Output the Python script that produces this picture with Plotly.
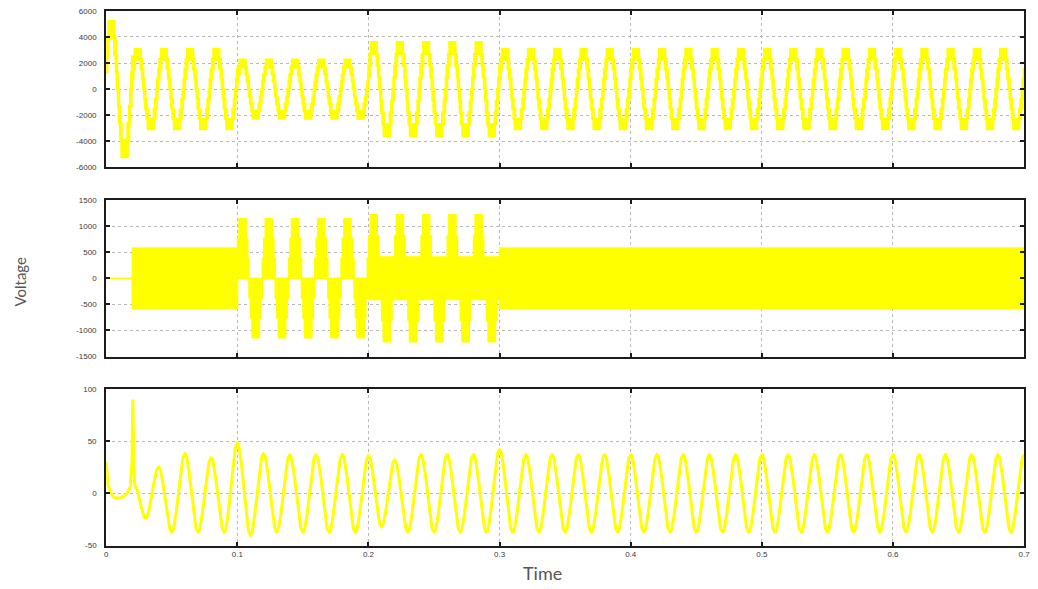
import numpy as np
import plotly.graph_objects as go

# ---------------------------------------------------------------------------
# Signal description
# ---------------------------------------------------------------------------
F0 = 50.0          # fundamental frequency, Hz
CREST_T = 0.004    # time of the first positive crest of the upper two traces, s
T_END = 0.7        # simulated time, s
FC = 6000.0        # converter switching frequency, Hz

# operating segments (s)
seg_t = [0.0, 0.02, 0.1, 0.2, 0.3, 0.7]

# upper trace: crest voltage per segment (V), staircase with 4 steps per half wave
top_amp = [5200, 3050, 2250, 3600, 3050]
top_steps = [4, 4, 4, 4, 4]

# middle trace: converter output per segment
mid_mode = ["off", "block", "multi", "wide", "block"]
mid_amp = [0, 580, 1140, 1215, 580]
mid_steps = [1, 1, 3, 3, 1]

# lower trace: start-up portion (s, V)
bot_start_t = [0.0, 0.001, 0.003, 0.006, 0.009, 0.012, 0.015, 0.018, 0.0195, 0.0203, 0.0211, 0.0220]
bot_start_v = [30, 9, 1, -4, -5, -4, -1, 4, 20, 90, 18, 6]
# lower trace: crest values every half period from 0.03 s to 0.70 s (V)
bot_crest_v = [
    -24, 25, -37, 38, -37, 34, -37, 48, -40, 38,
    -37, 37, -37, 37, -37, 37, -37, 36, -32, 32,
    -37, 37, -37, 37, -37, 37, -37, 42, -37, 37,
    -37, 37, -37, 37, -37, 37, -37, 37, -37, 37,
    -37, 37, -37, 37, -37, 37, -37, 37, -37, 37,
    -37, 37, -37, 37, -37, 37, -37, 37, -37, 37,
    -37, 37, -37, 37, -37, 37, -37, 37,
]
bot_crest_t = np.round(0.03 + 0.01 * np.arange(len(bot_crest_v)), 4)

# axis ticks
x_ticks = [0, 0.1, 0.2, 0.3, 0.4, 0.5, 0.6, 0.7]
x_ticktext = ["0", "0.1", "0.2", "0.3", "0.4", "0.5", "0.6", "0.7"]
top_ticks = [-6000, -4000, -2000, 0, 2000, 4000, 6000]
mid_ticks = [-1500, -1000, -500, 0, 500, 1000, 1500]
bot_ticks = [-50, 0, 50, 100]

YELLOW = "#ffff00"

# ---------------------------------------------------------------------------
# Waveform construction
# ---------------------------------------------------------------------------
tk = np.arange(0.0, T_END, 1.0 / FC)
seg_idx = np.clip(np.searchsorted(seg_t, tk, side="right") - 1, 0, len(seg_t) - 2)
phase = np.cos(2 * np.pi * F0 * (tk - CREST_T))


def pwm_path(lo, hi, duty):
    """Carrier-cycle path toggling between two levels."""
    n = len(tk)
    x = np.empty(4 * n)
    y = np.empty(4 * n)
    t_off = tk + duty / FC
    x[0::4], y[0::4] = tk, lo
    x[1::4], y[1::4] = tk, hi
    x[2::4], y[2::4] = t_off, hi
    x[3::4], y[3::4] = t_off, lo
    return x, y


def staircase(ref, amp, steps):
    step = amp / steps
    q = np.clip(np.floor(ref / step), -steps, steps - 1)
    lo = q * step
    hi = lo + step
    duty = np.clip((ref - lo) / step, 0, 1)
    return lo, hi, duty


# upper trace
amp_t = np.array(top_amp, dtype=float)[seg_idx]
steps_t = np.array(top_steps, dtype=float)[seg_idx]
ref_t = amp_t * phase
lo_t, hi_t, d_t = staircase(ref_t, amp_t, steps_t)
x_top, y_top = pwm_path(lo_t, hi_t, d_t)

# middle trace
amp_m = np.array(mid_amp, dtype=float)[seg_idx]
safe_amp = np.where(amp_m > 0, amp_m, 1.0)
steps_m = np.array(mid_steps, dtype=float)[seg_idx]
mode_m = np.array(mid_mode)[seg_idx]
ref_m = amp_m * phase
lo_m, hi_m, d_m = staircase(ref_m, safe_amp, steps_m)
step_m = safe_amp / steps_m
pos = ref_m >= 0

# multilevel: the output swings between zero and the active level
multi = mode_m == "multi"
lo_new = np.where(pos, 0.0, lo_m)
hi_new = np.where(pos, hi_m, 0.0)
lo_m = np.where(multi, lo_new, lo_m)
hi_m = np.where(multi, hi_new, hi_m)

# wide: the swing also reaches one step past zero
wide = mode_m == "wide"
lo_new = np.where(pos, -step_m, lo_m)
hi_new = np.where(pos, hi_m, step_m)
lo_m = np.where(wide, lo_new, lo_m)
hi_m = np.where(wide, hi_new, hi_m)

# two-level switching around zero
block = mode_m == "block"
lo_m = np.where(block, -amp_m, lo_m)
hi_m = np.where(block, amp_m, hi_m)
d_m = np.where(block, 0.5, d_m)

off = mode_m == "off"
lo_m = np.where(off, 0.0, lo_m)
hi_m = np.where(off, 0.0, hi_m)
x_mid, y_mid = pwm_path(lo_m, hi_m, d_m)

# lower trace: half-cosine segments between successive turning points
knot_t = np.concatenate([bot_start_t, bot_crest_t])
knot_v = np.concatenate([bot_start_v, bot_crest_v]).astype(float)
x_bot, y_bot = [], []
for i in range(len(knot_t) - 1):
    t0, t1 = knot_t[i], knot_t[i + 1]
    v0, v1 = knot_v[i], knot_v[i + 1]
    s = np.linspace(0, 1, 24, endpoint=False)
    x_bot.append(t0 + s * (t1 - t0))
    y_bot.append(v0 + (v1 - v0) * (1 - np.cos(np.pi * s)) / 2)
x_bot.append([knot_t[-1]])
y_bot.append([knot_v[-1]])
x_bot = np.concatenate(x_bot)
y_bot = np.concatenate(y_bot)

# ---------------------------------------------------------------------------
# Figure
# ---------------------------------------------------------------------------
fig = go.Figure()
fig.add_trace(go.Scatter(x=x_top, y=y_top, mode="lines", xaxis="x", yaxis="y",
                         line=dict(color=YELLOW, width=2.6, simplify=False),
                         hoverinfo="skip", showlegend=False))
fig.add_trace(go.Scatter(x=x_mid, y=y_mid, mode="lines", xaxis="x2", yaxis="y2",
                         line=dict(color=YELLOW, width=1.6, simplify=False),
                         hoverinfo="skip", showlegend=False))
fig.add_trace(go.Scatter(x=x_bot, y=y_bot, mode="lines", xaxis="x3", yaxis="y3",
                         line=dict(color=YELLOW, width=3),
                         hoverinfo="skip", showlegend=False))

W, H = 1038, 589
x_dom = [105 / W, 1030 / W]
rows = {  # (top px, bottom px)
    "": (7, 166),
    "2": (199, 358),
    "3": (391, 550),
}

tick_font = dict(family="Liberation Sans, Arial, sans-serif", size=8, color="#3a3a3a")
frame = dict(showline=True, linecolor="#1c1c1c", linewidth=2, mirror="ticks",
             ticks="inside", ticklen=4, tickcolor="#1c1c1c", tickwidth=1.5,
             showgrid=True, gridcolor="#b9b9b9", griddash="dot", gridwidth=1,
             zeroline=False, tickfont=tick_font, fixedrange=True)

y_specs = {"": top_ticks, "2": mid_ticks, "3": bot_ticks}
layout = dict(width=W, height=H, margin=dict(l=0, r=0, t=0, b=0),
              paper_bgcolor="white", plot_bgcolor="white", showlegend=False)
for key, (ptop, pbot) in rows.items():
    ticks = y_specs[key]
    layout["xaxis" + key] = dict(frame, domain=x_dom, range=[0, T_END],
                                 anchor="y" + key, tickvals=x_ticks,
                                 ticktext=x_ticktext, showticklabels=(key == "3"))
    layout["yaxis" + key] = dict(frame, domain=[1 - pbot / H, 1 - ptop / H],
                                 range=[ticks[0], ticks[-1]], anchor="x" + key,
                                 tickvals=ticks, ticktext=[str(v) for v in ticks],
                                 ticklabelstandoff=6)
fig.update_layout(**layout)

label_font = dict(family="Lato, Open Sans, sans-serif", color="#555555")
fig.add_annotation(text="Voltage", x=18 / W, y=1 - 282 / H, xref="paper", yref="paper",
                   xanchor="center", yanchor="middle",
                   showarrow=False, textangle=-90, font=dict(label_font, size=15))
fig.add_annotation(text="Time", x=545 / W, y=1 - 578 / H, xref="paper", yref="paper",
                   xanchor="center", yanchor="middle",
                   showarrow=False, font=dict(label_font, size=18))

fig.write_html("out.html")
